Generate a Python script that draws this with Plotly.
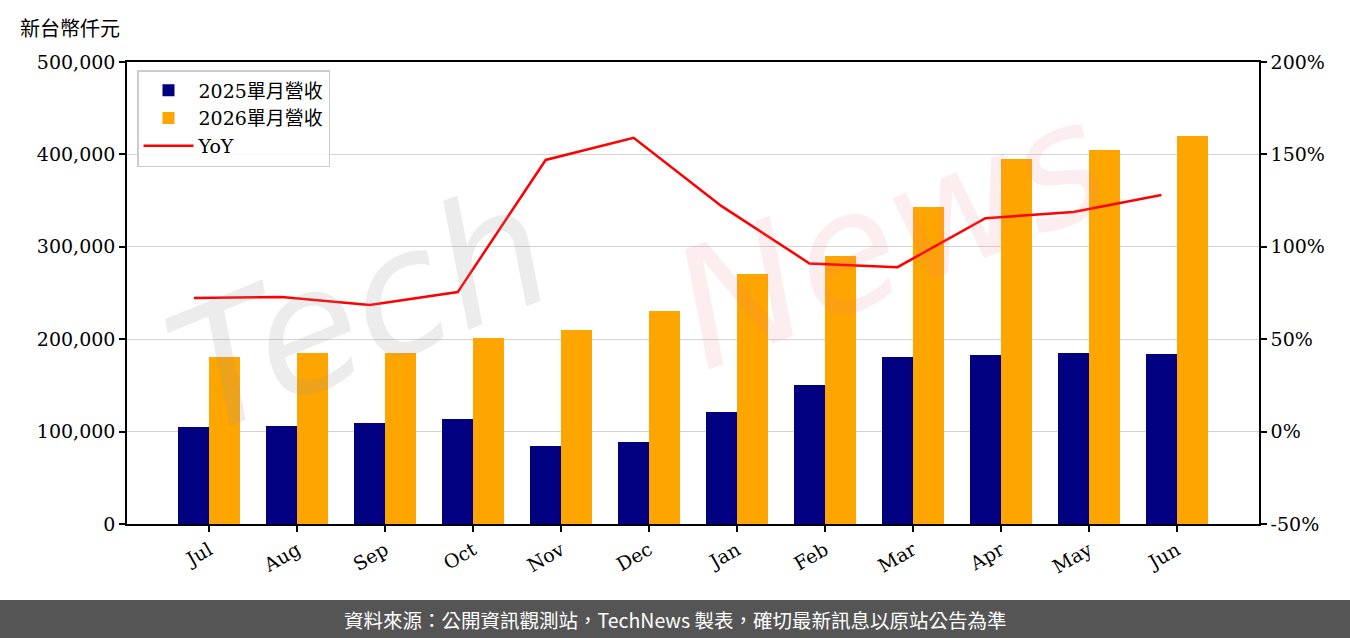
import plotly.graph_objects as go

months = ["Jul", "Aug", "Sep", "Oct", "Nov", "Dec", "Jan", "Feb", "Mar", "Apr", "May", "Jun"]
rev_2025 = [105000, 106000, 109300, 113600, 84400, 88700, 121200, 150400, 180700, 182900, 185000, 184000]
rev_2026 = [180700, 185000, 185000, 201300, 210000, 230500, 270600, 290000, 343000, 395000, 404800, 420000]
yoy = [72.3, 72.8, 68.5, 75.5, 147.0, 159.0, 122.0, 91.0, 89.0, 115.5, 118.8, 128.0]
yoy_ticks = [-50, 0, 50, 100, 150, 200]
yoy_ticktext = ["-50%", "0%", "50%", "100%", "150%", "200%"]

W = 0.35
idx = list(range(len(months)))
x25 = [i for i in idx]
x26 = [i + W for i in idx]
xt = [i + W / 2 for i in idx]

FONT = "DejaVu Serif, Noto Sans CJK TC, serif"

fig = go.Figure()
fig.add_trace(go.Bar(x=x25, y=rev_2025, width=W, name="2025單月營收",
                     marker=dict(color="#000080", line=dict(width=0))))
fig.add_trace(go.Bar(x=x26, y=rev_2026, width=W, name="2026單月營收",
                     marker=dict(color="#FFA500", line=dict(width=0))))
fig.add_trace(go.Scatter(x=x25, y=yoy, name="YoY", mode="lines",
                         line=dict(color="#FF0000", width=2.5), yaxis="y2"))

L, R, T, B = 127, 91, 62, 114
PH = 638 - T - B
PW = 1350 - L - R

def py(px):
    return (638 - B - px) / PH

def pxx(px):
    return (px - L) / PW

fig.update_layout(
    width=1350, height=638,
    margin=dict(l=L, r=R, t=T, b=B, autoexpand=False),
    paper_bgcolor="white", plot_bgcolor="white",
    font=dict(family=FONT, size=19, color="black"),
    barmode="overlay", bargap=0,
    showlegend=True,
    legend=dict(x=pxx(137), y=py(70), xanchor="left", yanchor="top",
                bgcolor="rgba(255,255,255,0.85)", bordercolor="#cccccc", borderwidth=1.5,
                font=dict(size=19, family=FONT), tracegroupgap=0, itemwidth=50),
    xaxis=dict(range=[-0.76, 12.11], tickmode="array", tickvals=xt, ticktext=months,
               tickangle=-30, ticks="outside", ticklen=6, tickwidth=1.5, tickcolor="black",
               showline=True, linecolor="black", linewidth=1.5, mirror=True,
               showgrid=False, zeroline=False, tickfont=dict(size=19)),
    yaxis=dict(range=[0, 500000], dtick=100000, tickformat=",", ticks="outside",
               ticklen=6, tickwidth=1.5, tickcolor="black",
               showline=True, linecolor="black", linewidth=1.5,
               showgrid=True, gridcolor="#d5d5d5", gridwidth=1.2, zeroline=False,
               tickfont=dict(size=19)),
    yaxis2=dict(range=[-50, 200], tickmode="array", tickvals=yoy_ticks, ticktext=yoy_ticktext,
                overlaying="y", side="right",
                ticks="outside", ticklen=6, tickwidth=1.5, tickcolor="black",
                showline=True, linecolor="black", linewidth=1.5,
                showgrid=False, zeroline=False, tickfont=dict(size=19)),
    shapes=[dict(type="rect", xref="paper", yref="paper",
                 x0=pxx(0), x1=pxx(1350), y0=py(638), y1=py(600),
                 fillcolor="#555555", line=dict(width=0), layer="above")],
    annotations=[
        dict(text="新台幣仟元", xref="paper", yref="paper", x=pxx(18), y=py(27),
             xanchor="left", yanchor="middle", showarrow=False,
             font=dict(size=20, family="Noto Sans CJK TC, sans-serif", color="black")),
        dict(text="資料來源：公開資訊觀測站，TechNews 製表，確切最新訊息以原站公告為準",
             xref="paper", yref="paper", x=pxx(675), y=py(619),
             xanchor="center", yanchor="middle", showarrow=False,
             font=dict(size=19.5, family="Noto Sans CJK TC, sans-serif", color="white")),
        dict(text="<i>Tech</i>", xref="paper", yref="paper", x=pxx(360), y=py(310),
             xanchor="center", yanchor="middle", showarrow=False, textangle=-22,
             font=dict(size=170, family="DejaVu Sans", color="rgba(150,150,150,0.18)")),
        dict(text="<i>News</i>", xref="paper", yref="paper", x=pxx(890), y=py(235),
             xanchor="center", yanchor="middle", showarrow=False, textangle=-22,
             font=dict(size=165, family="DejaVu Sans", color="rgba(235,120,120,0.13)")),
    ],
)

fig.write_html("out.html")
